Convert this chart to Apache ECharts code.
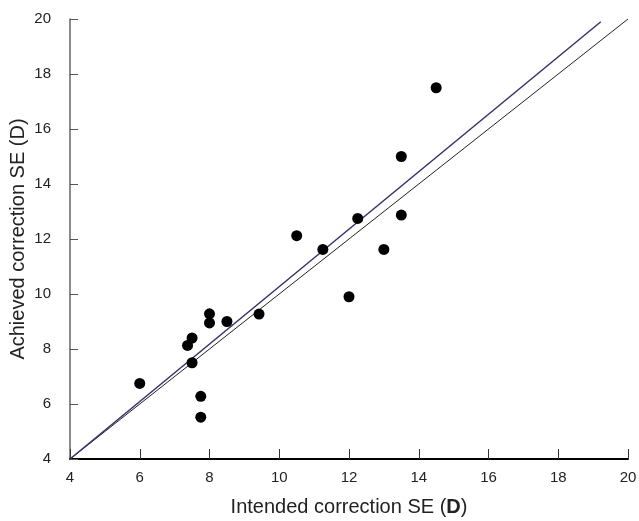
<!DOCTYPE html>
<html>
<head>
<meta charset="utf-8">
<script src="https://cdn.jsdelivr.net/npm/echarts@6/dist/echarts.min.js"></script>
<style>
  html, body { margin: 0; padding: 0; background: #fff; }
  #chart { width: 639px; height: 521px; }
</style>
</head>
<body>
<div id="chart"></div>
<script>
// intended vs achieved correction (D)
const intended = [6, 7.37, 7.5, 7.5, 7.75, 7.75, 8, 8, 8.5, 9.42, 10.5, 11.25, 12, 12.25, 13, 13.5, 13.5, 14.5];
const achieved = [6.75, 8.13, 8.4, 7.5, 6.28, 5.52, 9.28, 8.95, 9.0, 9.27, 12.12, 11.62, 9.9, 12.75, 11.62, 12.87, 15.0, 17.5];

// identity line and fitted line end points
const identityLine = [[4, 4], [20, 20]];
const fitLine = [[4, 4], [19.22, 19.9]];

const axisTicks = [4, 6, 8, 10, 12, 14, 16, 18, 20];

const points = intended.map((x, i) => [x, achieved[i]]);

const chart = echarts.init(document.getElementById('chart'));

const textColor = '#222';
const font = 'Liberation Sans, Arial, sans-serif';

chart.setOption({
  animation: false,
  grid: { left: 70, right: 11, top: 19, bottom: 62, outerBoundsMode: 'none' },
  xAxis: {
    type: 'value',
    min: axisTicks[0],
    max: axisTicks[axisTicks.length - 1],
    interval: 2,
    name: 'Intended correction SE ({b|D})',
    nameLocation: 'middle',
    nameGap: 38,
    nameTextStyle: {
      color: textColor, fontSize: 20, fontFamily: font,
      rich: { b: { fontWeight: 'bold', fontSize: 20, fontFamily: font, color: textColor } }
    },
    axisLine: { lineStyle: { color: '#000', width: 2 } },
    axisTick: { inside: true, length: 10, lineStyle: { color: '#333' } },
    axisLabel: { color: textColor, fontSize: 15, fontFamily: font, margin: 11 },
    splitLine: { show: false }
  },
  yAxis: {
    type: 'value',
    min: axisTicks[0],
    max: axisTicks[axisTicks.length - 1],
    interval: 2,
    name: 'Achieved correction SE (D)',
    nameLocation: 'middle',
    nameGap: 42,
    nameMoveOverlap: false,
    nameTextStyle: { color: textColor, fontSize: 20, fontFamily: font },
    axisLine: { show: true, lineStyle: { color: '#666', width: 1.5 } },
    axisTick: { show: true, inside: true, length: 8, lineStyle: { color: '#555' } },
    axisLabel: { color: textColor, fontSize: 15, fontFamily: font, margin: 19 },
    splitLine: { show: false }
  },
  series: [
    {
      type: 'line',
      data: identityLine,
      symbol: 'none',
      lineStyle: { color: '#222', width: 1 },
      z: 1
    },
    {
      type: 'line',
      data: fitLine,
      symbol: 'none',
      lineStyle: { color: '#3d2e6e', width: 1.5 },
      z: 1
    },
    {
      type: 'scatter',
      data: points,
      symbol: 'circle',
      symbolSize: 11,
      itemStyle: { color: '#000', opacity: 1 },
      z: 3
    }
  ]
});
</script>
</body>
</html>
